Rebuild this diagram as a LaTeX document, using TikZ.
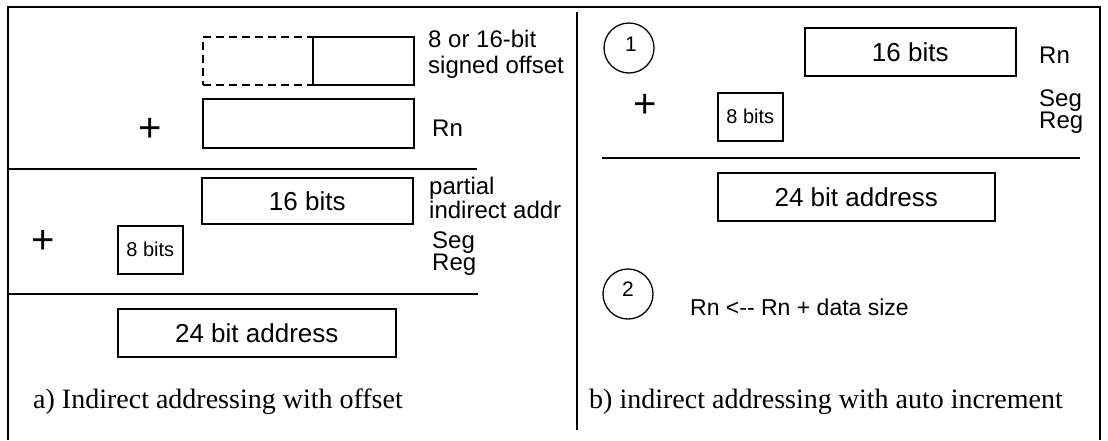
\documentclass[tikz,border=0pt]{standalone}
\usepackage{fontspec}
\setmainfont{Liberation Serif}
\newfontfamily\lblfont{Liberation Sans}
\begin{document}
\begin{tikzpicture}[x=1pt,y=-1pt,
  reg/.style={draw, line width=1.5pt, inner sep=0pt, anchor=north west},
  dreg/.style={reg, dashed, dash pattern=on 8pt off 5pt},
  biglbl/.style={font=\lblfont\fontsize{26}{28}\selectfont},
  smalllbl/.style={font=\lblfont\fontsize{20}{22}\selectfont},
  side/.style={anchor=west, inner sep=0pt, font=\lblfont\fontsize{24}{26}\selectfont},
  plus/.style={inner sep=0pt, font=\lblfont\fontsize{40}{40}\selectfont},
  rule/.style={line width=1.5pt},
  stepmark/.style={draw, circle, line width=1.3pt, minimum size=50pt, inner sep=0pt},
  digit/.style={inner sep=0pt, font=\lblfont\fontsize{21}{23}\selectfont},
  caption/.style={anchor=base west, inner sep=0pt, font=\fontsize{28}{30}\selectfont}
]
\useasboundingbox (0,0) rectangle (1108,440);

% outer frame (open at the bottom) and panel divider
\draw[line width=2pt] (8,440) -- (8,7) -- (1100,7) -- (1100,440);
\draw[line width=1.5pt] (577,12) -- (577,430);

% ---- a) indirect addressing with offset ----
\node[dreg, minimum width=110pt, minimum height=48pt] (offExt) at (202,36) {};
\node[reg, fill=white, minimum width=101pt, minimum height=48pt] (offA) at (312,36) {};
\node[side] (offLblA) at (428,39) {8 or 16-bit};
\node[side] (offLblB) at (428,67) {signed offset};

\node[plus] (plusA) at (150,130) {+};
\node[reg, minimum width=211pt, minimum height=49pt] (rnA) at (202,98) {};
\node[side] (rnLblA) at (432,128) {Rn};

\draw[rule] (8,169) -- (477,169);

\node[reg, biglbl, minimum width=211pt, minimum height=46pt] (partA) at (201,177) {16 bits};
\node[side] (partLblA) at (429,188) {partial};
\node[side] (partLblB) at (429,210) {indirect addr};

\node[plus] (plusB) at (43,242) {+};
\node[reg, smalllbl, minimum width=65pt, minimum height=48pt] (segA) at (117,225) {8 bits};
\node[side] (segLblA) at (432,243) {Seg};
\node[side] (segLblB) at (432,265) {Reg};

\draw[rule] (8,294) -- (478,294);

\node[reg, biglbl, minimum width=278pt, minimum height=48pt] (addrA) at (117,308) {24 bit address};

\node[caption] (capA) at (33,408) {a) Indirect addressing with offset};

% ---- b) indirect addressing with auto increment ----
\node[stepmark] (stepOne) at (629,48) {};
\node[digit] (stepOneNum) at ([xshift=2pt,yshift=4pt]stepOne.center) {1};

\node[reg, biglbl, minimum width=211pt, minimum height=48pt] (rnB) at (804,27) {16 bits};
\node[side] (rnLblB) at (1039,55) {Rn};

\node[plus] (plusC) at (645,106) {+};
\node[reg, smalllbl, minimum width=65pt, minimum height=48pt] (segB) at (717,92) {8 bits};
\node[side] (segLblC) at (1039,101) {Seg};
\node[side] (segLblD) at (1039,123) {Reg};

\draw[rule] (602,158) -- (1080,158);

\node[reg, biglbl, minimum width=277pt, minimum height=48pt] (addrB) at (717,172) {24 bit address};

\node[stepmark] (stepTwo) at (628,294) {};
\node[digit] (stepTwoNum) at ([yshift=5pt]stepTwo.center) {2};
\node[side, font=\lblfont\fontsize{23}{25}\selectfont] (incr) at (690,307) {Rn <-- Rn + data size};

\node[caption] (capB) at (589,408) {b) indirect addressing with auto increment};
\end{tikzpicture}
\end{document}
